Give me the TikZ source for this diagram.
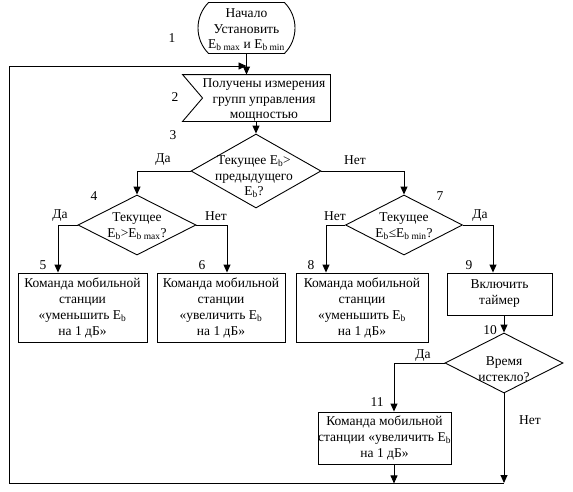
\documentclass[tikz,border=0pt]{standalone}
\usepackage{fontspec}
\setmainfont{LiberationSerif}[Extension=.ttf, UprightFont=*-Regular, BoldFont=*-Bold]
\usetikzlibrary{shapes.geometric,shapes.misc,arrows.meta}
\begin{document}
\begin{tikzpicture}[x=1pt,y=-1pt]
\tikzset{bloc/.style={draw, rectangle, inner sep=0pt, align=center, font=\fontsize{13.5}{16}\selectfont},
  romb/.style={draw, diamond, inner sep=0pt},
  texte/.style={align=center, inner sep=0pt, font=\fontsize{13.5}{15.5}\selectfont},
  num/.style={inner sep=0pt, font=\fontsize{13.5}{15}\selectfont},
  fleche/.style={-{Triangle[length=8pt,width=7pt]}}}
\useasboundingbox (0,0) rectangle (573,491);
\tikzset{every path/.style={line width=0.9pt}}
% blocs
\node[draw, rounded rectangle, rounded rectangle arc length=90, minimum width=97pt, minimum height=51pt, inner sep=0pt] (B1) at (246.5,28) {};
\node[texte] (T1) at (246.5,30) {Начало\\Установить\\E\textsubscript{b max} и E\textsubscript{b min}};
\node[minimum width=147pt, minimum height=46pt, inner sep=0pt] (B2) at (256.5,98) {};
\draw (B2.north west) -- (B2.north east) -- (B2.south east) -- (B2.south west) -- ([xshift=20pt]B2.west) -- cycle;
\node[texte] (T2) at (264,100) {Получены измерения\\групп управления\\мощностью};
\node[romb, minimum width=130pt, minimum height=74pt] (D3) at (256,171) {};
\node[texte] (T3) at (254,177) {Текущее E\textsubscript{b}>\\предыдущего\\E\textsubscript{b}?};
\node[romb, minimum width=118pt, minimum height=60pt] (D4) at (137,225) {};
\node[texte] (T4) at (137,226) {Текущее\\E\textsubscript{b}>E\textsubscript{b max}?};
\node[romb, minimum width=117pt, minimum height=60pt] (D7) at (404,225) {};
\node[texte] (T7) at (404,226) {Текущее\\E\textsubscript{b}≤E\textsubscript{b min}?};
\node[bloc, minimum width=129pt, minimum height=69pt] (B5) at (82.5,307.5) {Команда мобильной\\станции\\«уменьшить E\textsubscript{b}\\на 1 дБ»};
\node[bloc, minimum width=128pt, minimum height=69pt] (B6) at (221,307.5) {Команда мобильной\\станции\\«увеличить E\textsubscript{b}\\на 1 дБ»};
\node[bloc, minimum width=132pt, minimum height=69pt] (B8) at (362,307.5) {Команда мобильной\\станции\\«уменьшить E\textsubscript{b}\\на 1 дБ»};
\node[bloc, minimum width=105pt, minimum height=42pt] (B9) at (499.5,294) {Включить\\таймер};
\node[romb, minimum width=118pt, minimum height=60pt] (D10) at (504,363) {};
\node[texte] (T10) at (504,369) {Время\\истекло?};
\node[bloc, minimum width=125pt, minimum height=52pt] (B11) at (384.5,438) {Команда мобильной\\станции «увеличить E\textsubscript{b}\\на 1 дБ»};
% numeros
\node[num] (N1) at (172,38) {1};
\node[num] (N2) at (175,97) {2};
\node[num] (N3) at (173,135) {3};
\node[num] (N4) at (94,196) {4};
\node[num] (N5) at (43,265) {5};
\node[num] (N6) at (202,265) {6};
\node[num] (N7) at (440,196) {7};
\node[num] (N8) at (311,265) {8};
\node[num] (N9) at (469,265) {9};
\node[num] (N10) at (490,330) {10};
\node[num] (N11) at (377,402) {11};
% oui / non
\node[num] (O3) at (163,160) {Да};
\node[num] (M3) at (355,160) {Нет};
\node[num] (O4) at (60,216) {Да};
\node[num] (M4) at (216,216) {Нет};
\node[num] (M7) at (335,216) {Нет};
\node[num] (O7) at (480,216) {Да};
\node[num] (O10) at (423,356) {Да};
\node[num] (M10) at (530,420) {Нет};
% fleches
\coordinate (Bas) at (9,483);
\coordinate (Haut) at (9,66);
\draw[fleche] (B1.south) -- (B1.south |- B2.north);
\draw[fleche] (B2.south -| D3.north) -- (D3.north);
\draw[fleche] (D3.west) -| (D4.north);
\draw[fleche] (D3.east) -| (D7.north);
\draw[fleche] (D4.west) -| ([xshift=-24.5pt]B5.north);
\draw[fleche] (D4.east) -| ([xshift=6pt]B6.north);
\draw[fleche] (D7.west) -| ([xshift=-36pt]B8.north);
\draw[fleche] (D7.east) -| ([xshift=-6.5pt]B9.north);
\draw[fleche] (B9.south -| D10.north) -- (D10.north);
\draw[fleche] (D10.west) -| ([xshift=9.5pt]B11.north);
\draw[fleche] ([xshift=9.5pt]B11.south) -- ++(0,19);
\draw[fleche] (D10.south) -- (D10.south |- Bas);
\draw[fleche] (D10.south |- Bas) -- (Bas) -- (Haut) -- (Haut -| B1.south);
\end{tikzpicture}
\end{document}
